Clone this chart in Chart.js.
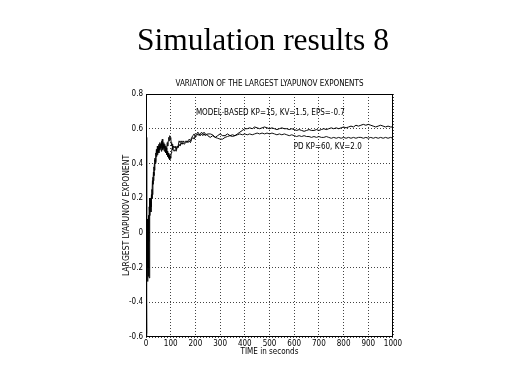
<!DOCTYPE html>
<html>
<head>
<meta charset="utf-8">
<script src="https://cdn.jsdelivr.net/npm/chart.js@4"></script>
<style>
html,body{margin:0;padding:0;background:#fff;}
#wrap{position:absolute;left:0;top:0;width:519px;height:389px;}
</style>
</head>
<body>
<div id="wrap"><canvas id="c" width="519" height="389"></canvas></div>
<script>
const pageTitle = "Simulation results 8";
const chartTitle = "VARIATION OF THE LARGEST LYAPUNOV EXPONENTS";
const xTitle = "TIME in seconds";
const yTitle = "LARGEST LYAPUNOV EXPONENT";

const times = [
  0,1,2,3,4,5,6,7,8,9,10,11,12,13,14,15,16,
  18,20,22,24,26,28,30,32,34,36,
  38,40,42,44,46,48,50,52,54,56,
  58,60,62,64,66,68,70,72,74,76,
  78,80,82,84,86,88,90,92,94,96,
  98,100,102,104,106,108,110,
  114,118,122,126,130,134,138,142,146,150,
  155,160,165,170,175,180,185,190,195,200,
  205,210,215,220,225,230,235,240,245,250,
  260,270,280,290,300,310,320,330,340,350,
  360,370,380,390,400,410,420,430,440,450,
  460,470,480,490,500,510,520,530,540,550,
  560,570,580,590,600,610,620,630,640,650,
  660,670,680,690,700,710,720,730,740,750,
  760,770,780,790,800,810,820,830,840,850,
  860,870,880,890,900,910,920,930,940,950,
  960,970,980,990,1000
];

const modelBased = [
  0.55,-0.58,-0.3,-0.1,0.05,-0.2,0.08,-0.15,0.0,-0.25,0.1,0.05,-0.05,0.15,0.1,0.2,0.12,
  0.18,0.15,0.22,0.2,0.3,0.28,0.35,0.33,0.4,0.43,
  0.41,0.46,0.44,0.48,0.45,0.5,0.47,0.51,0.48,0.52,
  0.49,0.5,0.47,0.53,0.5,0.48,0.51,0.49,0.47,0.5,
  0.48,0.46,0.49,0.45,0.47,0.44,0.46,0.43,0.45,0.42,
  0.44,0.43,0.46,0.47,0.49,0.48,0.5,
  0.49,0.5,0.48,0.5,0.49,0.51,0.5,0.52,0.51,0.52,
  0.51,0.52,0.53,0.52,0.53,0.52,0.54,0.55,0.54,0.56,
  0.57,0.58,0.57,0.56,0.57,0.56,0.57,0.56,0.57,0.56,
  0.55,0.56,0.55,0.56,0.57,0.56,0.56,0.57,0.56,0.565,
  0.56,0.57,0.58,0.59,0.6,0.6,0.605,0.6,0.61,0.605,
  0.6,0.605,0.61,0.605,0.6,0.605,0.6,0.595,0.6,0.605,
  0.6,0.6,0.595,0.6,0.595,0.59,0.595,0.59,0.585,0.59,
  0.595,0.59,0.59,0.595,0.59,0.595,0.6,0.595,0.6,0.605,
  0.6,0.605,0.6,0.605,0.61,0.605,0.61,0.615,0.61,0.62,
  0.615,0.62,0.625,0.62,0.625,0.62,0.615,0.61,0.615,0.62,
  0.615,0.61,0.615,0.61,0.61
];

const pdControl = [
  0.55,-0.6,-0.2,0.0,-0.15,0.08,-0.1,-0.28,0.05,-0.05,-0.2,0.0,0.1,-0.26,0.05,0.15,0.1,
  0.2,0.12,0.2,0.25,0.22,0.32,0.3,0.38,0.36,0.42,
  0.4,0.44,0.48,0.46,0.5,0.47,0.49,0.46,0.5,0.48,
  0.51,0.49,0.52,0.5,0.54,0.51,0.5,0.52,0.49,0.51,
  0.48,0.5,0.47,0.49,0.52,0.5,0.53,0.55,0.53,0.56,
  0.54,0.55,0.52,0.5,0.51,0.49,0.48,
  0.47,0.48,0.47,0.49,0.5,0.53,0.52,0.53,0.52,0.53,
  0.52,0.53,0.52,0.53,0.54,0.53,0.55,0.56,0.57,0.55,
  0.56,0.57,0.56,0.57,0.58,0.57,0.58,0.57,0.565,0.57,
  0.57,0.565,0.55,0.545,0.54,0.54,0.55,0.555,0.56,0.555,
  0.56,0.565,0.57,0.565,0.57,0.565,0.57,0.565,0.57,0.575,
  0.57,0.575,0.57,0.575,0.57,0.575,0.57,0.565,0.57,0.565,
  0.57,0.565,0.56,0.565,0.56,0.555,0.56,0.555,0.56,0.555,
  0.555,0.55,0.555,0.55,0.555,0.55,0.55,0.555,0.55,0.545,
  0.55,0.545,0.55,0.545,0.55,0.545,0.55,0.545,0.55,0.545,
  0.55,0.55,0.545,0.55,0.545,0.55,0.545,0.55,0.545,0.55,
  0.545,0.55,0.545,0.55,0.545
];

const annotationTexts = ["MODEL-BASED KP=15, KV=1.5, EPS=-0.7", "PD KP=60, KV=2.0"];
const annotationX = [202, 598];
const annotationY = [0.692, 0.495];

const axisFont = "'Liberation Sans Narrow','DejaVu Sans Condensed','Arial Narrow',Arial,sans-serif";

const toPoints = (vals) => vals.map((v, i) => ({x: times[i], y: v}));

const framePlugin = {
  id: 'frameAndText',
  afterDatasetsDraw(chart) {
    const {ctx, chartArea: a, scales} = chart;
    ctx.save();
    ctx.strokeStyle = '#000';
    ctx.lineWidth = 1;
    ctx.strokeRect(Math.round(a.left) + 0.5, Math.round(a.top) + 0.5,
                   Math.round(a.right - a.left) - 1, Math.round(a.bottom - a.top) - 1);
    ctx.fillStyle = '#000';
    ctx.font = "8px " + axisFont;
    ctx.textAlign = 'left';
    ctx.textBaseline = 'middle';
    annotationTexts.forEach((t, i) => {
      ctx.fillText(t, scales.x.getPixelForValue(annotationX[i]), scales.y.getPixelForValue(annotationY[i]));
    });
    ctx.restore();
  }
};

new Chart(document.getElementById('c'), {
  type: 'line',
  data: {
    datasets: [
      {label: 'MODEL-BASED', data: toPoints(modelBased), borderColor: '#000', borderWidth: 1, pointRadius: 0, tension: 0, fill: false},
      {label: 'PD', data: toPoints(pdControl), borderColor: '#111', borderWidth: 1, pointRadius: 0, tension: 0, fill: false}
    ]
  },
  options: {
    responsive: false,
    animation: false,
    devicePixelRatio: 1,
    layout: {padding: {left: 17, right: 10, top: 0, bottom: 28}},
    plugins: {
      legend: {display: false},
      tooltip: {enabled: false},
      title: {
        display: true, text: pageTitle, color: '#000',
        font: {family: "'Liberation Serif','Times New Roman',serif", size: 31.5, weight: 'normal'},
        padding: {top: 23.1, bottom: 0}
      }
    },
    scales: {
      x: {
        type: 'linear', position: 'bottom', min: 0, max: 1000,
        ticks: {stepSize: 100, color: '#000', font: {family: axisFont, size: 8}, padding: 2, maxRotation: 0, autoSkip: false,
          callback: (v) => String(v)},
        grid: {color: '#444', lineWidth: 1, drawTicks: false},
        border: {display: false, dash: [1, 2]},
        title: {display: true, text: xTitle, color: '#000', font: {family: axisFont, size: 8}, padding: {top: 0, bottom: 4}},
        afterFit(s) { s.height = 24; }
      },
      x2: {
        type: 'linear', position: 'top', min: 0, max: 1000, display: true,
        ticks: {display: false}, grid: {display: false}, border: {display: false},
        title: {display: true, text: chartTitle, color: '#000', font: {family: axisFont, size: 8}, padding: {top: 18.3, bottom: 0}},
        afterFit(s) { s.height = 33.1; }
      },
      y: {
        type: 'linear', position: 'left', min: -0.6, max: 0.8,
        ticks: {stepSize: 0.2, color: '#000', font: {family: axisFont, size: 8}, padding: 3,
          callback: (v) => { const r = Math.round(v * 10) / 10; return r === 0 ? '0' : String(r); }},
        grid: {color: '#444', lineWidth: 1, drawTicks: false},
        border: {display: false, dash: [1, 2]},
        title: {display: true, text: yTitle, color: '#000', font: {family: axisFont, size: 8.5}, padding: {top: 105, bottom: 0}},
        afterFit(s) { s.width = 129; }
      },
      y2: {
        type: 'linear', position: 'right', min: -0.6, max: 0.8, display: true,
        ticks: {display: false}, grid: {display: false}, border: {display: false},
        afterFit(s) { s.width = 116; }
      }
    }
  },
  plugins: [framePlugin]
});
</script>
</body>
</html>
